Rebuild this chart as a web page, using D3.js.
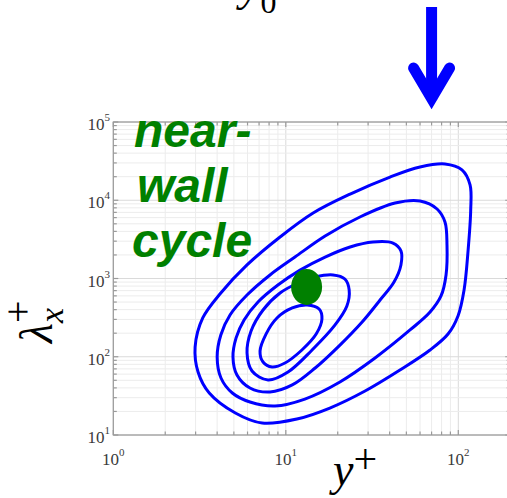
<!DOCTYPE html>
<html>
<head>
<meta charset="utf-8">
<script src="https://cdn.jsdelivr.net/npm/d3@7"></script>
<style>
  html, body { margin: 0; padding: 0; background: #fff; }
  svg { display: block; }
</style>
</head>
<body>
<script>
// Axis extents and tick values (log–log premultiplied spectrum map)
const xDomain = [1, 200];          // y+
const yDomain = [10, 1e5];         // lambda_x+
const xMajorTicks = [1, 10, 100];
const yMajorTicks = [10, 100, 1000, 10000, 100000];

// Iso-contours of the spectrum, each a closed loop of [y+, lambda_x+] points
const contour1 = [
  [2.98, 133], [3.1, 63.9], [3.6, 34.4], [5.1, 19.1], [7.3, 14.2], [11.6, 16.0],
  [18.0, 22.1], [28.8, 36.5], [45.9, 67.7], [68.6, 122], [87.2, 195], [99.6, 332],
  [108, 713], [114, 2310], [118, 7510], [117, 15700], [105, 24400], [83.7, 29100],
  [60, 26600], [40.2, 19800], [23.6, 12000], [14.4, 6870], [9.26, 3390],
  [5.96, 1490], [4.2, 653], [3.3, 313]
];
const contour2 = [
  [4.0, 99.3], [4.21, 53.5], [4.9, 34.4], [6.2, 26.4], [8.66, 23.5], [12.9, 28.8],
  [20.6, 47.6], [32.9, 96.4], [52.5, 220], [68.6, 373], [79.4, 598], [84.9, 1110],
  [86.0, 2680], [83.7, 5270], [75.3, 7730], [60.0, 9780], [43.0, 9220],
  [26.9, 6110], [16.9, 3490], [11.3, 1880], [8.1, 1110], [5.96, 615],
  [4.75, 342], [4.2, 190]
];
const contour3 = [
  [4.94, 99.3], [5.21, 58.5], [6.2, 39.9], [8.1, 35.4], [10.9, 43.6], [14.8, 71.8],
  [20.6, 141], [27.7, 278], [35.2, 531], [42.4, 902], [46.5, 1490], [46.5, 2250],
  [41.8, 2840], [32.0, 2930], [23.6, 2530], [16.9, 1880], [12.1, 1280],
  [9.0, 826], [6.9, 501], [5.73, 295], [5.15, 174]
];
const contour4 = [
  [5.96, 112], [6.37, 65.8], [7.89, 50.4], [10.3, 63.9], [14.2, 122], [19.3, 255],
  [22.6, 445], [23.3, 713], [22.0, 985], [18.8, 1110], [14.8, 1045], [11.8, 876],
  [9.26, 653], [7.38, 396], [6.29, 213]
];
const contour5 = [
  [7.09, 118], [7.38, 85.7], [8.32, 74.0], [9.89, 83.2], [12.4, 122], [15.0, 195],
  [16.2, 304], [15.6, 408], [13.3, 459], [10.9, 420], [8.89, 313], [7.68, 195]
];
const contours = [contour1, contour2, contour3, contour4, contour5];

// Spectral peak of the near-wall cycle
const peak = [13.2, 780];
// Wall-normal position marked by the arrow above the axes
const arrowY = 70;
// Annotation text
const noteLines = ["near-", "wall", "cycle"];

const W = 507, H = 498;
const svg = d3.select("body").append("svg").attr("width", W).attr("height", H);

const x0 = 113.3, decX = 172.5;
const x = d3.scaleLog().domain(xDomain)
  .range([x0, x0 + decX * Math.log10(xDomain[1] / xDomain[0])]);
const y = d3.scaleLog().domain(yDomain).range([435, 122]);

const [L, R] = x.range();
const [B, T] = y.range();

// Grid
const grid = svg.append("g");
const isMajor = v => Math.abs(Math.log10(v) - Math.round(Math.log10(v))) < 1e-9;
x.ticks().forEach(v => {
  grid.append("line").attr("x1", x(v)).attr("x2", x(v)).attr("y1", T).attr("y2", B)
    .attr("stroke", isMajor(v) ? "#dadada" : "#ececec").attr("stroke-width", 1);
});
y.ticks().forEach(v => {
  grid.append("line").attr("x1", L).attr("x2", R).attr("y1", y(v)).attr("y2", y(v))
    .attr("stroke", isMajor(v) ? "#dadada" : "#ececec").attr("stroke-width", 1);
});

// Axes box with inward ticks
const axisCol = "#9a9a9a";
const box = svg.append("g").attr("stroke", axisCol).attr("stroke-width", 1.2).attr("fill", "none");
box.append("rect").attr("x", L).attr("y", T).attr("width", R - L).attr("height", B - T);
x.ticks().forEach(v => {
  const len = isMajor(v) ? 5 : 3.5;
  box.append("line").attr("x1", x(v)).attr("x2", x(v)).attr("y1", B).attr("y2", B - len);
  box.append("line").attr("x1", x(v)).attr("x2", x(v)).attr("y1", T).attr("y2", T + len);
});
y.ticks().forEach(v => {
  const len = isMajor(v) ? 5 : 3.5;
  box.append("line").attr("x1", L).attr("x2", L + len).attr("y1", y(v)).attr("y2", y(v));
  box.append("line").attr("x1", R).attr("x2", R - len).attr("y1", y(v)).attr("y2", y(v));
});

// Tick labels: 10^n
const tickFont = "'Liberation Serif', 'Times New Roman', serif";
xMajorTicks.forEach(v => {
  const t = svg.append("text").attr("x", x(v)).attr("y", 465)
    .attr("text-anchor", "middle").attr("font-family", tickFont)
    .attr("font-size", 17).attr("fill", "#3a3a3a");
  t.append("tspan").text("10");
  t.append("tspan").attr("font-size", 11).attr("dy", -9).text(Math.round(Math.log10(v)));
});
yMajorTicks.forEach(v => {
  const t = svg.append("text").attr("x", 110).attr("y", y(v) + 8)
    .attr("text-anchor", "end").attr("font-family", tickFont)
    .attr("font-size", 17).attr("fill", "#3a3a3a");
  t.append("tspan").text("10");
  t.append("tspan").attr("font-size", 11).attr("dy", -9).text(Math.round(Math.log10(v)));
});

// Annotation text
const note = svg.append("g")
  .attr("font-family", "'Liberation Sans', Arial, sans-serif")
  .attr("font-weight", "bold").attr("font-style", "italic")
  .attr("font-size", 48).attr("fill", "#008000");
noteLines.forEach((s, i) => {
  note.append("text").attr("x", [134, 137, 132][i]).attr("y", 147 + i * 55).text(s);
});

// Contours
const line = d3.line().x(d => x(d[0])).y(d => y(d[1]))
  .curve(d3.curveCatmullRomClosed.alpha(0.5));
svg.append("g").selectAll("path").data(contours).join("path")
  .attr("d", line).attr("fill", "none").attr("stroke", "#0000ff")
  .attr("stroke-width", 3).attr("stroke-linejoin", "round");

// Peak marker
svg.append("ellipse").attr("cx", x(peak[0])).attr("cy", y(peak[1]))
  .attr("rx", 15.5).attr("ry", 18).attr("fill", "#008000");

// Arrow above the axes
const ax = x(arrowY);
const arrow = svg.append("g").attr("stroke", "#0000ff").attr("fill", "none").attr("stroke-width", 11);
arrow.append("line").attr("x1", ax).attr("x2", ax).attr("y1", 7).attr("y2", 100).attr("stroke-linecap", "butt");
arrow.append("path")
  .attr("d", `M${ax - 18},68 L${ax},98.5 L${ax + 18},68`)
  .attr("stroke-linecap", "round").attr("stroke-linejoin", "miter").attr("stroke-miterlimit", 10);

// Axis labels
const mathFont = "'Liberation Serif', 'Times New Roman', serif";
const xl = svg.append("text").attr("x", 333).attr("y", 485)
  .attr("font-family", mathFont).attr("font-size", 46).attr("fill", "#000");
xl.append("tspan").attr("font-style", "italic").text("y");
xl.append("tspan").attr("font-size", 42).attr("dy", -12).text("+");

const yl = svg.append("text").attr("transform", "translate(52,343) rotate(-90)")
  .attr("font-family", mathFont).attr("font-size", 46).attr("fill", "#000");
yl.append("tspan").attr("font-style", "italic").text("λ");
yl.append("tspan").attr("font-size", 40).attr("dy", -21).text("+");
yl.append("tspan").attr("font-style", "italic").attr("font-size", 34)
  .attr("dx", -22.6).attr("dy", 32).text("x");

// Partially visible label at the top edge
const topLabel = svg.append("text").attr("x", 240).attr("y", 0)
  .attr("font-family", mathFont).attr("font-size", 46).attr("fill", "#000");
topLabel.append("tspan").attr("font-style", "italic").text("y");
topLabel.append("tspan").attr("font-size", 32).attr("dy", 13).text("0");
</script>
</body>
</html>
